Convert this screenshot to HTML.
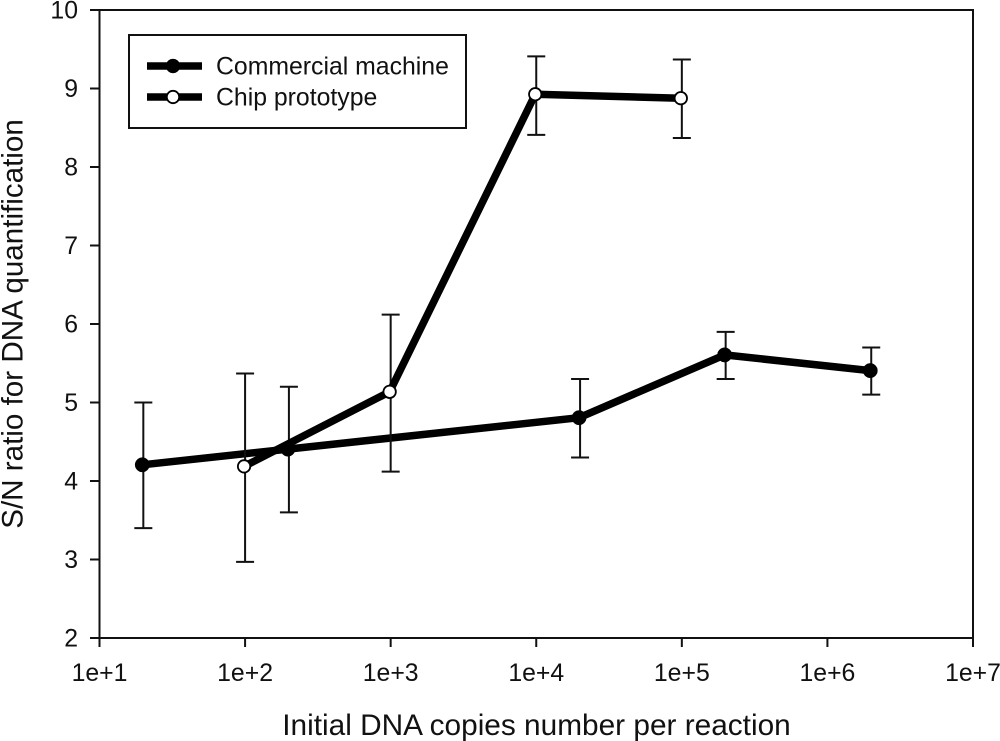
<!DOCTYPE html>
<html>
<head>
<meta charset="utf-8">
<style>
html,body{margin:0;padding:0;background:#fff}
svg{display:block}
text{font-family:"Liberation Sans",sans-serif;fill:#111}
</style>
</head>
<body>
<svg id="chart" xmlns="http://www.w3.org/2000/svg" width="1000" height="741" viewBox="0 0 1000 741"></svg>
<script>
const xTickExponents = [1, 2, 3, 4, 5, 6, 7];
const xTickLabels = ['1e+1', '1e+2', '1e+3', '1e+4', '1e+5', '1e+6', '1e+7'];
const yTicks = [2, 3, 4, 5, 6, 7, 8, 9, 10];
const commercialCopies = [20, 200, 20000, 200000, 2000000];
const commercialValues = [4.2, 4.4, 4.8, 5.6, 5.4];
const commercialUpper = [5.0, 5.2, 5.3, 5.9, 5.7];
const commercialLower = [3.4, 3.6, 4.3, 5.3, 5.1];
const chipCopies = [100, 1000, 10000, 100000];
const chipValues = [4.18, 5.13, 8.92, 8.87];
const chipUpper = [5.37, 6.12, 9.41, 9.37];
const chipLower = [2.97, 4.12, 8.41, 8.37];

const svg = document.getElementById('chart');
const NS = 'http://www.w3.org/2000/svg';
const plotLeft = 99.5, plotRight = 973, plotTop = 10, plotBottom = 638;
const xMinExp = 1, xMaxExp = 7, yMin = 2, yMax = 10;
function xScale(v) { return plotLeft + (Math.log10(v) - xMinExp) / (xMaxExp - xMinExp) * (plotRight - plotLeft); }
function yScale(v) { return plotBottom - (v - yMin) / (yMax - yMin) * (plotBottom - plotTop); }
function make(tag, attrs, parent) {
  const el = document.createElementNS(NS, tag);
  for (const k in attrs) el.setAttribute(k, attrs[k]);
  (parent || svg).appendChild(el);
  return el;
}
function group(name) {
  const g = make('g', {});
  
  
  return g;
}
const axisStroke = { stroke: '#111', 'stroke-width': 2 };

// frame
const frame = make('rect', { x: plotLeft, y: plotTop, width: plotRight - plotLeft, height: plotBottom - plotTop, fill: 'none', stroke: '#111', 'stroke-width': 2 });



// y axis
const yAxis = group('y-axis');
yTicks.forEach(function (t) {
  const tick = make('line', Object.assign({ x1: 90, x2: plotLeft, y1: yScale(t), y2: yScale(t) }, axisStroke), yAxis);
  
  
  const label = make('text', { x: 78, y: yScale(t) + 8.5, 'text-anchor': 'end', 'font-size': 24.8 }, yAxis);
  label.textContent = String(t);
  
  
});

// x axis
const xAxis = group('x-axis');
xTickExponents.forEach(function (e, i) {
  const x = xScale(Math.pow(10, e));
  const tick = make('line', Object.assign({ x1: x, x2: x, y1: plotBottom, y2: 647 }, axisStroke), xAxis);
  
  
  const label = make('text', { x: x, y: 681, 'text-anchor': 'middle', 'font-size': 24.8 }, xAxis);
  label.textContent = xTickLabels[i];
  
  
});

// series
function drawSeries(name, copies, values, upper, lower, fill) {
  const g = group(name);
  copies.forEach(function (c, i) {
    const x = xScale(c), yu = yScale(upper[i]), yl = yScale(lower[i]);
    const bar = make('path', {
      d: 'M' + x + ' ' + yu + 'V' + yl + 'M' + (x - 9) + ' ' + yu + 'H' + (x + 9) + 'M' + (x - 9) + ' ' + yl + 'H' + (x + 9),
      fill: 'none', stroke: '#111', 'stroke-width': 2
    }, g);
    
    
  });
  const pts = copies.map(function (c, i) { return (xScale(c) - 1) + ',' + (yScale(values[i]) - 0.5); }).join(' ');
  const line = make('polyline', { points: pts, fill: 'none', stroke: '#000', 'stroke-width': 7.5, 'stroke-linejoin': 'round' }, g);
  
  
  copies.forEach(function (c, i) {
    const m = make('circle', { cx: xScale(c) - 1, cy: yScale(values[i]) - 0.5, r: fill === '#fff' ? 6.2 : 7.2, fill: fill, stroke: '#000', 'stroke-width': fill === '#fff' ? 1.8 : 0.5 }, g);
    
    
  });
}
drawSeries('commercial-machine-series', commercialCopies, commercialValues, commercialUpper, commercialLower, '#000');
drawSeries('chip-prototype-series', chipCopies, chipValues, chipUpper, chipLower, '#fff');

// axis titles
const xTitle = make('text', { x: 536.5, y: 735, 'text-anchor': 'middle', 'font-size': 29.8 });
xTitle.textContent = 'Initial DNA copies number per reaction';


const yTitle = make('text', { x: 0, y: 0, 'text-anchor': 'middle', 'font-size': 29.6, transform: 'translate(22.5 324) rotate(-90)' });
yTitle.textContent = 'S/N ratio for DNA quantification';



// legend
const legend = group('legend');
const box = make('rect', { x: 129, y: 35, width: 337, height: 93, fill: '#fff', stroke: '#111', 'stroke-width': 2 }, legend);


function legendEntry(name, label, y, fill) {
  const g = make('g', {}, legend);
  
  
  make('line', { x1: 147, x2: 202, y1: y, y2: y, stroke: '#000', 'stroke-width': 7.5 }, g);
  make('circle', { cx: 173, cy: y, r: fill === '#fff' ? 6.2 : 7, fill: fill, stroke: '#000', 'stroke-width': fill === '#fff' ? 1.8 : 0.5 }, g);
  const t = make('text', { x: 216, y: y + 8.5, 'font-size': 24.8 }, g);
  t.textContent = label;
}
legendEntry('legend-entry-commercial', 'Commercial machine', 66, '#000');
legendEntry('legend-entry-chip', 'Chip prototype', 97, '#fff');
</script>
</body>
</html>
